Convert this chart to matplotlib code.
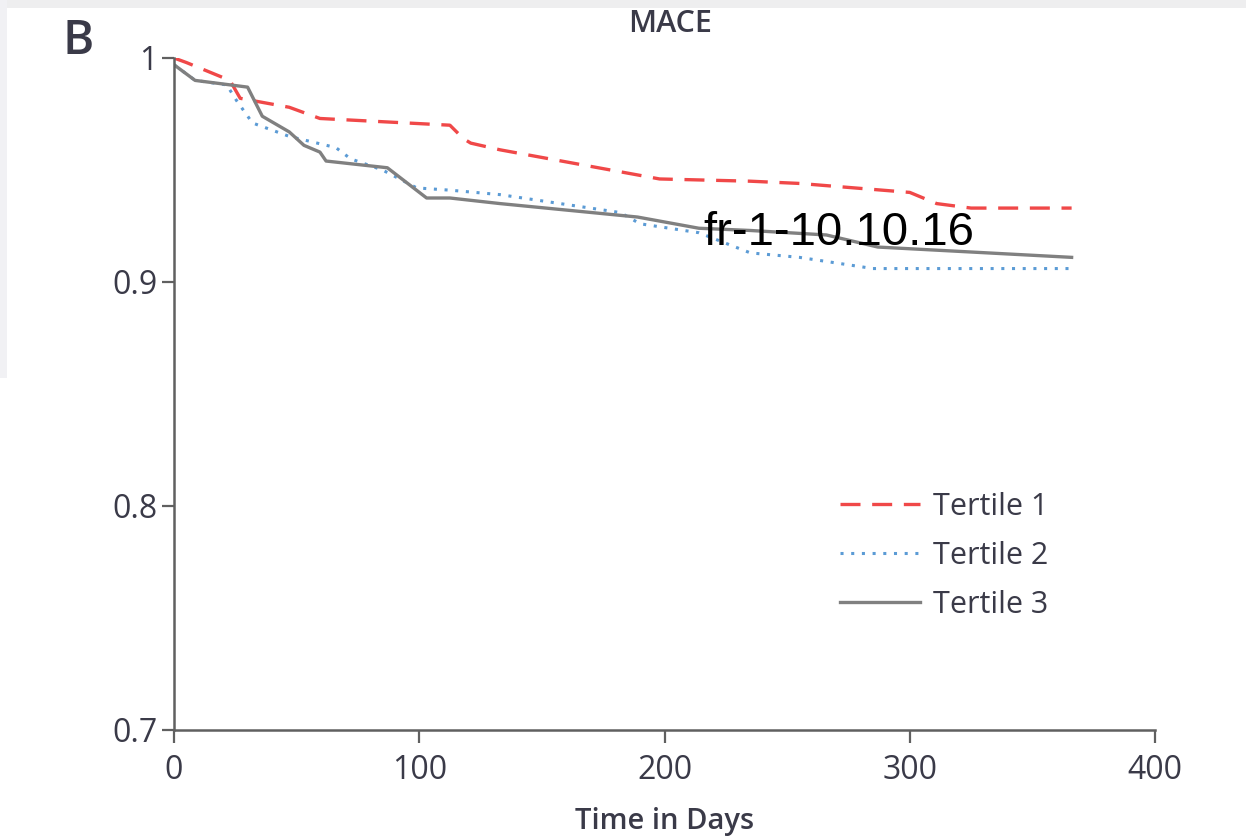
import matplotlib
matplotlib.use("Agg")
import matplotlib.pyplot as plt
from matplotlib.patches import Rectangle

# Data
t1_days = [0, 5, 22.8, 27, 47, 59.5, 112.5, 118, 121, 133, 198, 235, 255, 300, 311, 325, 366]
t1_surv = [1.0, 0.998, 0.990, 0.982, 0.978, 0.973, 0.970, 0.964, 0.962, 0.959, 0.946, 0.945, 0.944, 0.940, 0.935, 0.933, 0.933]

t2_days = [0, 8.6, 21.5, 25.5, 32, 47, 66, 72, 85, 99, 112.5, 133, 182, 190, 214, 235, 255, 285, 366]
t2_surv = [0.997, 0.990, 0.988, 0.981, 0.971, 0.965, 0.960, 0.955, 0.950, 0.942, 0.941, 0.939, 0.931, 0.926, 0.922, 0.913, 0.911, 0.906, 0.906]

t3_days = [0, 8.6, 30, 36, 47, 53, 59.5, 62, 87, 103, 112.5, 133, 189, 214, 235, 266, 287, 366]
t3_surv = [0.997, 0.990, 0.987, 0.974, 0.967, 0.961, 0.958, 0.954, 0.951, 0.9375, 0.9375, 0.935, 0.929, 0.924, 0.923, 0.921, 0.9156, 0.911]

labels = ["Tertile 1", "Tertile 2", "Tertile 3"]
x_ticks = [0, 100, 200, 300, 400]
y_ticks = [0.7, 0.8, 0.9, 1.0]
y_ticklabels = ["0.7", "0.8", "0.9", "1"]

plt.rcParams['font.family'] = ['Open Sans', 'DejaVu Sans']
txt = "#3a3a48"

fig = plt.figure(figsize=(12.46, 8.39), dpi=100)
fig.patch.set_facecolor("white")
# screenshot frame strip
fig.add_artist(Rectangle((0, 1 - 8/839), 1, 8/839, transform=fig.transFigure,
                         facecolor="#eeeeef", edgecolor="none"))
fig.add_artist(Rectangle((0, 0.55), 7/1246, 0.45, transform=fig.transFigure,
                         facecolor="#f1f1f4", edgecolor="none"))

ax = fig.add_axes([174/1246, 1 - 730/839, (1155 - 174)/1246, (730 - 58)/839])
ax.plot(t1_days, t1_surv, color="#f04848", lw=2.4, dashes=(6, 3.5), label=labels[0])
ax.plot(t2_days, t2_surv, color="#5b9bd5", lw=2.2, linestyle=(0, (1, 2.5)), label=labels[1])
ax.plot(t3_days, t3_surv, color="#808080", lw=2.4, label=labels[2])

ax.set_xlim(0, 400)
ax.set_ylim(0.7, 1.0)
ax.set_xticks(x_ticks)
ax.set_yticks(y_ticks)
ax.set_yticklabels(y_ticklabels)
for s in ["top", "right"]:
    ax.spines[s].set_visible(False)
for s in ["left", "bottom"]:
    ax.spines[s].set_color("#606060")
    ax.spines[s].set_linewidth(1.8)
ax.tick_params(axis="both", direction="out", length=9, width=1.6, color="#606060",
               labelsize=23, labelcolor=txt)
ax.tick_params(axis="x", pad=8)
ax.tick_params(axis="y", pad=3)
ax.set_xlabel("Time in Days", fontsize=21, color=txt, labelpad=15, fontweight="semibold")

ax.legend(loc="upper left", bbox_to_anchor=(0.679, 0.354), frameon=False, fontsize=22,
          handlelength=2.6, handletextpad=0.45, labelspacing=0.62, labelcolor=txt,
          borderpad=0, borderaxespad=0)

fig.text(670/1246, 1 - 24/839, "MACE", ha="center", va="center", fontsize=22,
         fontweight="semibold", color=txt)
fig.text(78/1246, 1 - 42/839, "B", ha="center", va="center", fontsize=34,
         fontweight="semibold", color=txt)
fig.text(703/1246, 1 - 233/839, "fr-1-10.10.16", ha="left", va="center", fontsize=34,
         color="black", family=["Liberation Sans", "DejaVu Sans"])

fig.savefig("out.png", dpi=100, facecolor=fig.get_facecolor())
